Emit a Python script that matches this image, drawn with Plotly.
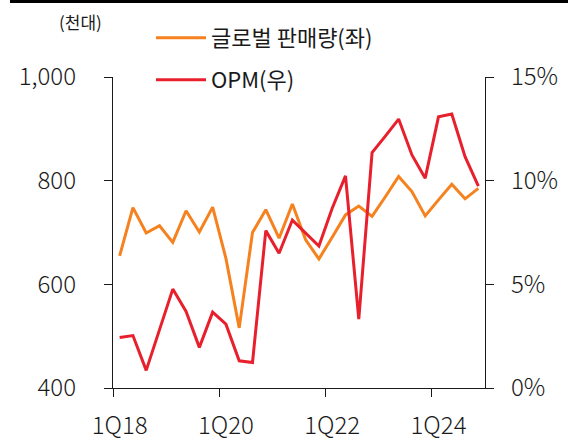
import plotly.graph_objects as go

quarters = [f"{q}Q{y}" for y in range(18, 25) for q in range(1, 5)]
sales = [655, 748, 699, 713, 681, 742, 701, 749, 650, 516, 700, 744, 689, 755,
         686, 649, 691, 734, 751, 731, 769, 808, 779, 732, 763, 793, 765, 785]
opm = [2.44, 2.53, 0.85, 2.8, 4.77, 3.69, 1.96, 3.66, 3.08, 1.31, 1.23, 7.59, 6.5, 8.1,
       7.48, 6.85, 8.67, 10.23, 3.32, 11.35, 12.15, 12.97, 11.24, 10.12, 13.08, 13.21, 11.16, 9.74]
xtick_labels = ["1Q18", "1Q20", "1Q22", "1Q24"]
left_ticks = [400, 600, 800, 1000]
left_text = ["400", "600", "800", "1,000"]
right_ticks = [0, 5, 10, 15]
right_text = ["0%", "5%", "10%", "15%"]

ORANGE = "#F5821F"
RED = "#E8202D"
FONT = "Noto Sans CJK KR, Lato, sans-serif"

xidx = list(range(len(quarters)))
fig = go.Figure()
fig.add_trace(go.Scatter(x=xidx, y=sales, mode="lines", name="글로벌 판매량(좌)",
                         line=dict(color=ORANGE, width=3), yaxis="y", legend="legend"))
fig.add_trace(go.Scatter(x=xidx, y=opm, mode="lines", name="OPM(우)",
                         line=dict(color=RED, width=3), yaxis="y2", legend="legend2"))

tickpos = [quarters.index(t) for t in xtick_labels]
axis_col = "#1a1a1a"
tf = dict(size=24, weight=300, color="#1a1a1a")

fig.update_layout(
    width=568, height=443,
    margin=dict(l=113, r=83, t=77, b=55, autoexpand=False),
    paper_bgcolor="white", plot_bgcolor="white",
    font=dict(family=FONT, color="#1a1a1a", size=22),
    xaxis=dict(range=[-0.5, len(quarters) - 0.5], showgrid=False, zeroline=False,
               automargin=False,
               showline=True, linecolor=axis_col, linewidth=1.3,
               tickvals=tickpos, ticktext=xtick_labels, ticks="",
               ticklabelstandoff=16, tickfont=tf,
               minor=dict(tickvals=[p - 0.5 for p in tickpos], ticks="outside",
                          ticklen=8, tickwidth=1.3, tickcolor=axis_col)),
    yaxis=dict(range=[400, 1000], tickvals=left_ticks, ticktext=left_text,
               automargin=False,
               showgrid=False, zeroline=False, showline=True, linecolor=axis_col,
               linewidth=1.3, ticks="outside", ticklen=8, tickwidth=1.3,
               tickcolor=axis_col, ticklabelstandoff=23, tickfont=tf),
    yaxis2=dict(range=[0, 15], tickvals=right_ticks, ticktext=right_text, overlaying="y",
                automargin=False,
                side="right", showgrid=False, zeroline=False, showline=True,
                linecolor=axis_col, linewidth=1.3, ticks="outside", ticklen=8,
                tickwidth=1.3, tickcolor=axis_col, ticklabelstandoff=12,
                tickfont=tf),
    legend=dict(x=(151 - 113) / 372, y=(388 - 17) / 311, xanchor="left", yanchor="top",
                bgcolor="rgba(0,0,0,0)", font=dict(size=22, weight=400), itemwidth=50),
    legend2=dict(x=(151 - 113) / 372, y=(388 - 59) / 311, xanchor="left", yanchor="top",
                 bgcolor="rgba(0,0,0,0)", font=dict(size=22, weight=400), itemwidth=50),
    showlegend=True,
    annotations=[dict(text="(천대)", x=(80 - 113) / 372, y=(388 - 21) / 311,
                      xref="paper", yref="paper", showarrow=False,
                      xanchor="center", yanchor="middle", font=dict(size=17, weight=400))],
    shapes=[dict(type="line", xref="paper", yref="paper",
                 x0=(10 - 113) / 372, x1=(570 - 113) / 372,
                 y0=(388 - 1.5) / 311, y1=(388 - 1.5) / 311,
                 line=dict(color="black", width=3))],
)

fig.write_html("out.html", config={"displayModeBar": False},
               post_script="document.body.style.margin='0px';")
